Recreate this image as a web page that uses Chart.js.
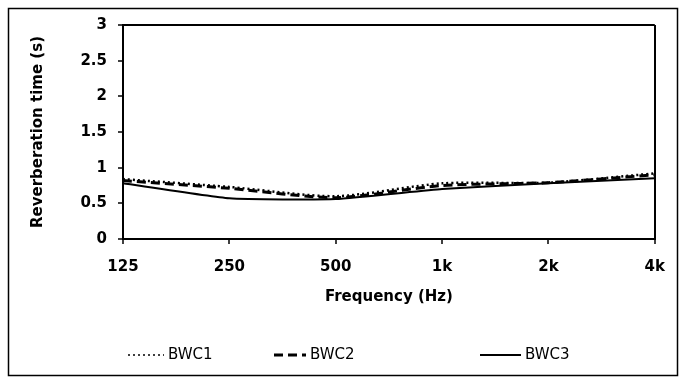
<!DOCTYPE html>
<html lang="en">
<head>
  <meta charset="UTF-8">
  <title>Reverberation time</title>
  <script src="https://cdn.jsdelivr.net/npm/chart.js"></script>
  <style>
    html, body {
      margin: 0;
      padding: 0;
      background: #fff;
    }
    .wrap {
      width: 679px;
      height: 379px;
      position: relative;
    }
  </style>
</head>
<body>
  <div class="wrap">
    <canvas id="graphique" width="679" height="379"></canvas>
  </div>

  <script>
    const frequences = ["125", "250", "500", "1k", "2k", "4k"];
    const bwc1 = [0.84, 0.73, 0.60, 0.78, 0.79, 0.92];
    const bwc2 = [0.82, 0.71, 0.58, 0.75, 0.79, 0.90];
    const bwc3 = [0.78, 0.57, 0.56, 0.70, 0.78, 0.85];
    const yTicks = [0, 0.5, 1, 1.5, 2, 2.5, 3];

    const police = "'DejaVu Sans', Arial, sans-serif";

    // cadre exterieur + legende dessinee a la main (positions du modele)
    const cadre = {
      id: 'cadre',
      beforeDraw(chart) {
        const c = chart.ctx;
        c.save();
        c.strokeStyle = '#000';
        c.lineWidth = 1.5;
        c.strokeRect(8.5, 8.5, 669, 367);
        c.restore();
      },
      afterDraw(chart) {
        const c = chart.ctx;
        const y = 355;
        const items = [
          { ds: 0, x1: 128, x2: 164 },
          { ds: 1, x1: 274, x2: 306 },
          { ds: 2, x1: 480, x2: 521 }
        ];
        c.save();
        c.font = "15px " + police;
        c.textBaseline = 'middle';
        c.fillStyle = '#000';
        items.forEach(it => {
          const d = chart.data.datasets[it.ds];
          c.beginPath();
          c.strokeStyle = '#000';
          c.lineWidth = it.ds === 0 ? 1.5 : d.borderWidth;
          c.setLineDash(d.borderDash || []);
          c.moveTo(it.x1, y);
          c.lineTo(it.x2, y);
          c.stroke();
          c.setLineDash([]);
          c.fillText(d.label, it.x2 + 4, y);
        });
        c.restore();
      }
    };

    new Chart(document.getElementById("graphique"), {
      type: 'line',
      data: {
        labels: frequences,
        datasets: [
          { label: 'BWC1', data: bwc1, borderColor: '#000', borderWidth: 2.5, borderDash: [2, 3], pointRadius: 0, tension: 0.25 },
          { label: 'BWC2', data: bwc2, borderColor: '#000', borderWidth: 3, borderDash: [9, 5], pointRadius: 0, tension: 0.25 },
          { label: 'BWC3', data: bwc3, borderColor: '#000', borderWidth: 2, pointRadius: 0, tension: 0.15 }
        ]
      },
      options: {
        responsive: false,
        animation: false,
        layout: { padding: { top: 25, right: 14, left: 0, bottom: 0 } },
        plugins: {
          legend: { display: false },
          tooltip: { enabled: false }
        },
        scales: {
          x: {
            offset: false,
            afterFit: s => { s.height = 140; },
            border: { color: '#000', width: 2 },
            grid: {
              color: ctx => ctx.index === frequences.length - 1 ? '#000' : 'rgba(0,0,0,0)',
              lineWidth: 2,
              tickColor: '#000',
              tickWidth: 1.5,
              tickLength: 5
            },
            ticks: {
              color: '#000',
              padding: 14,
              maxRotation: 0,
              font: { family: police, size: 15, weight: 'bold' }
            },
            title: {
              display: true,
              text: 'Frequency (Hz)',
              color: '#000',
              padding: { top: 0, bottom: 73 },
              font: { family: police, size: 15, weight: 'bold' }
            }
          },
          y: {
            min: 0,
            max: 3,
            afterFit: s => { s.width = 123; },
            afterBuildTicks: s => { s.ticks = yTicks.map(v => ({ value: v })); },
            border: { color: '#000', width: 2 },
            grid: {
              color: ctx => ctx.tick && ctx.tick.value === 3 ? '#000' : 'rgba(0,0,0,0)',
              lineWidth: 2,
              tickColor: '#000',
              tickWidth: 1.5,
              tickLength: 5
            },
            ticks: {
              color: '#000',
              padding: 11,
              callback: v => String(v),
              font: { family: police, size: 15, weight: 'bold' }
            },
            title: {
              display: true,
              text: 'Reverberation time (s)',
              color: '#000',
              padding: { top: 29, bottom: 0 },
              font: { family: police, size: 15, weight: 'bold' }
            }
          }
        }
      },
      plugins: [cadre]
    });
  </script>
</body>
</html>
